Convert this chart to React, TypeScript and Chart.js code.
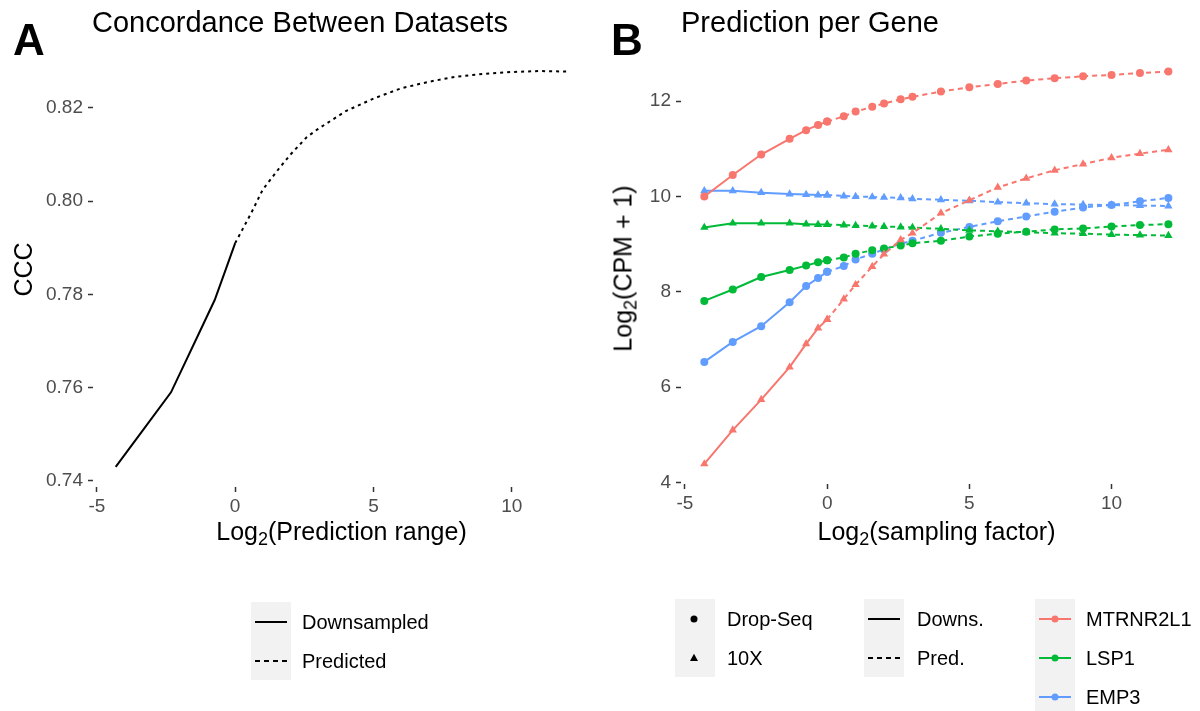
import React, { useEffect, useRef } from "react";
import { Chart, registerables } from "chart.js";

Chart.register(...registerables);

// ---------- Data ----------
// log2(sampling factor) for downsampled points and predicted points
const xDown = [-4.32, -3.32, -2.32, -1.32, -0.74, -0.32, 0];
const xPred = [0, 0.585, 1, 1.585, 2, 2.585, 3, 4, 5, 6, 7, 8, 9, 10, 11, 12];

// Panel A: concordance (CCC)
const cccDown = [0.743, 0.751, 0.759, 0.7715, 0.7788, 0.7857, 0.791];
const cccPred = [0.791, 0.7975, 0.8025, 0.807, 0.81, 0.8137, 0.8155, 0.8193, 0.822, 0.8242, 0.8256, 0.8267, 0.8273, 0.8277, 0.8279, 0.8278];

// Panel B: Log2(CPM + 1) per gene
const mtrnrDropSeqDown = [10.0, 10.45, 10.88, 11.21, 11.39, 11.5, 11.57];
const mtrnrDropSeqPred = [11.57, 11.68, 11.78, 11.88, 11.95, 12.04, 12.09, 12.2, 12.29, 12.36, 12.43, 12.48, 12.52, 12.55, 12.59, 12.62];
const mtrnr10xDown = [4.39, 5.1, 5.74, 6.42, 6.91, 7.24, 7.42];
const mtrnr10xPred = [7.42, 7.85, 8.15, 8.53, 8.79, 9.09, 9.23, 9.65, 9.92, 10.19, 10.38, 10.55, 10.68, 10.81, 10.9, 10.98];
const lspDropSeqDown = [7.81, 8.05, 8.31, 8.46, 8.55, 8.62, 8.66];
const lspDropSeqPred = [8.66, 8.72, 8.8, 8.87, 8.91, 8.97, 9.02, 9.07, 9.16, 9.22, 9.26, 9.31, 9.33, 9.37, 9.4, 9.42];
const lsp10xDown = [9.35, 9.44, 9.44, 9.44, 9.42, 9.41, 9.41];
const lsp10xPred = [9.41, 9.4, 9.39, 9.38, 9.37, 9.36, 9.35, 9.32, 9.29, 9.27, 9.25, 9.23, 9.22, 9.2, 9.19, 9.18];
const empDropSeqDown = [6.53, 6.95, 7.28, 7.78, 8.12, 8.29, 8.42];
const empDropSeqPred = [8.42, 8.54, 8.68, 8.8, 8.89, 9.01, 9.07, 9.24, 9.36, 9.48, 9.58, 9.68, 9.77, 9.82, 9.9, 9.97];
const emp10xDown = [10.12, 10.12, 10.08, 10.05, 10.04, 10.03, 10.03];
const emp10xPred = [10.03, 10.01, 10.0, 9.99, 9.98, 9.97, 9.95, 9.93, 9.91, 9.88, 9.86, 9.84, 9.83, 9.82, 9.81, 9.8];

const genes = ["MTRNR2L1", "LSP1", "EMP3"];
const techs = ["Drop-Seq", "10X"];
const lineTypes = ["Downs.", "Pred."];
const lineTypesA = ["Downsampled", "Predicted"];

// Tick labels
const xTicks = [-5, 0, 5, 10];
const yTicksA = [0.74, 0.76, 0.78, 0.8, 0.82];
const yTicksB = [4, 6, 8, 10, 12];

// ---------- Styles ----------
const FONT = "'Liberation Sans', Arial, Helvetica, sans-serif";
const geneColors = ["#F8766D", "#00BA38", "#619CFF"];
const techShapes = ["circle", "triangle"];
const DASH_A = [3, 4];
const DASH_B = [5, 4];
const KEY_BG = "#F2F2F2";

const toPoints = (xs: number[], ys: number[]) => xs.map((x, i) => ({ x, y: ys[i] }));

function axisX(min: number, max: number, ticks: number[], height: number) {
  return {
    type: "linear",
    min,
    max,
    afterBuildTicks: (s: any) => {
      s.ticks = ticks.map((v) => ({ value: v }));
    },
    afterFit: (s: any) => {
      s.height = height;
    },
    grid: { drawOnChartArea: false, drawTicks: true, tickLength: 5, tickColor: "#333333", tickWidth: 1.5 },
    border: { display: false },
    ticks: {
      color: "#4D4D4D",
      font: { family: FONT, size: 19 },
      padding: 3,
      maxRotation: 0,
      autoSkip: false,
      callback: (v: any) => String(v),
    },
  };
}

function axisY(min: number, max: number, ticks: number[], width: number, fmt: (v: number) => string) {
  return {
    type: "linear",
    min,
    max,
    afterBuildTicks: (s: any) => {
      s.ticks = ticks.map((v) => ({ value: v }));
    },
    afterFit: (s: any) => {
      s.width = width;
    },
    grid: { drawOnChartArea: false, drawTicks: true, tickLength: 5, tickColor: "#333333", tickWidth: 1.5 },
    border: { display: false },
    ticks: {
      color: "#4D4D4D",
      font: { family: FONT, size: 19 },
      padding: 5,
      autoSkip: false,
      callback: (v: any) => fmt(Number(v)),
    },
  };
}

function makeConfigA(): any {
  return {
    type: "line",
    data: {
      datasets: [
        {
          label: lineTypesA[0],
          data: toPoints(xDown, cccDown),
          borderColor: "#000000",
          borderWidth: 2,
          pointRadius: 0,
          tension: 0,
          fill: false,
        },
        {
          label: lineTypesA[1],
          data: toPoints(xPred, cccPred),
          borderColor: "#000000",
          borderWidth: 2,
          borderDash: DASH_A,
          pointRadius: 0,
          tension: 0,
          fill: false,
        },
      ],
    },
    options: {
      animation: false,
      responsive: false,
      events: [],
      layout: { padding: { left: 0, right: 10, top: 51, bottom: 0 } },
      plugins: { legend: { display: false }, tooltip: { enabled: false }, title: { display: false } },
      scales: {
        x: axisX(-5.14, 12.83, xTicks, 711 - 487),
        y: axisY(0.7387, 0.8322, yTicksA, 93, (v) => v.toFixed(2)),
      },
    },
  };
}

function makeConfigB(): any {
  const series = [
    { gene: 0, tech: 0, down: mtrnrDropSeqDown, pred: mtrnrDropSeqPred },
    { gene: 0, tech: 1, down: mtrnr10xDown, pred: mtrnr10xPred },
    { gene: 1, tech: 0, down: lspDropSeqDown, pred: lspDropSeqPred },
    { gene: 1, tech: 1, down: lsp10xDown, pred: lsp10xPred },
    { gene: 2, tech: 0, down: empDropSeqDown, pred: empDropSeqPred },
    { gene: 2, tech: 1, down: emp10xDown, pred: emp10xPred },
  ];
  const datasets: any[] = [];
  series.forEach((s) => {
    const color = geneColors[s.gene];
    const shape = techShapes[s.tech];
    const radius = s.tech === 0 ? 4 : 4.8;
    datasets.push({
      label: `${genes[s.gene]} ${techs[s.tech]} ${lineTypes[0]}`,
      data: toPoints(xDown, s.down),
      borderColor: color,
      backgroundColor: color,
      borderWidth: 2,
      pointStyle: shape,
      pointRadius: radius,
      pointBorderWidth: 0,
      pointBackgroundColor: color,
      tension: 0,
      fill: false,
    });
    datasets.push({
      label: `${genes[s.gene]} ${techs[s.tech]} ${lineTypes[1]}`,
      data: toPoints(xPred, s.pred),
      borderColor: color,
      backgroundColor: color,
      borderWidth: 2,
      borderDash: DASH_B,
      pointStyle: shape,
      pointRadius: radius,
      pointBorderWidth: 0,
      pointBackgroundColor: color,
      tension: 0,
      fill: false,
    });
  });
  return {
    type: "line",
    data: { datasets },
    options: {
      animation: false,
      responsive: false,
      events: [],
      layout: { padding: { left: 0, right: 8, top: 52, bottom: 0 } },
      plugins: { legend: { display: false }, tooltip: { enabled: false }, title: { display: false } },
      scales: {
        x: axisX(-5.14, 12.83, xTicks, 711 - 484),
        y: axisY(3.97, 13.03, yTicksB, 81, (v) => String(v)),
      },
    },
  };
}

function ChartCanvas({ make, left, top, width, height }: any) {
  const ref = useRef<HTMLCanvasElement>(null);
  useEffect(() => {
    const chart = new Chart(ref.current as HTMLCanvasElement, make());
    return () => chart.destroy();
  }, []);
  return (
    <canvas
      ref={ref}
      width={width}
      height={height}
      style={{ position: "absolute", left, top, width, height }}
    />
  );
}

// Text helpers
function Text({ left, top, size, children, bold, width, align, color }: any) {
  return (
    <div
      style={{
        position: "absolute",
        left,
        top,
        width,
        fontFamily: FONT,
        fontSize: size,
        lineHeight: `${size}px`,
        fontWeight: bold ? 700 : 400,
        textAlign: align || "left",
        color: color || "#000000",
        whiteSpace: "nowrap",
      }}
    >
      {children}
    </div>
  );
}

function VText({ cx, cy, size, children }: any) {
  const w = 300;
  return (
    <div
      style={{
        position: "absolute",
        left: cx - w / 2,
        top: cy - size / 2,
        width: w,
        height: size,
        fontFamily: FONT,
        fontSize: size,
        lineHeight: `${size}px`,
        textAlign: "center",
        transform: "rotate(-90deg)",
        transformOrigin: "50% 50%",
        whiteSpace: "nowrap",
        color: "#000000",
      }}
    >
      {children}
    </div>
  );
}

const subStyle: any = { fontSize: "0.72em", verticalAlign: "-0.28em", lineHeight: 0 };

function Legends() {
  const tri = (cx: number, cy: number, r: number) =>
    `${cx},${cy - r} ${cx - r * 0.95},${cy + r * 0.7} ${cx + r * 0.95},${cy + r * 0.7}`;
  return (
    <>
      {/* Panel A legend */}
      <svg style={{ position: "absolute", left: 251, top: 602 }} width={40} height={78}>
        <rect x={0} y={0} width={40} height={78} fill={KEY_BG} />
        <line x1={4} x2={36} y1={20} y2={20} stroke="#000" strokeWidth={2} />
        <line x1={4} x2={36} y1={59} y2={59} stroke="#000" strokeWidth={2} strokeDasharray="5 4" />
      </svg>
      <Text left={302} top={622 - 10} size={20}>{lineTypesA[0]}</Text>
      <Text left={302} top={661 - 10} size={20}>{lineTypesA[1]}</Text>

      {/* Panel B legend: shape */}
      <svg style={{ position: "absolute", left: 675, top: 599 }} width={40} height={78}>
        <rect x={0} y={0} width={40} height={78} fill={KEY_BG} />
        <circle cx={19} cy={20} r={3.5} fill="#000" />
        <polygon points={tri(19, 59, 4.2)} fill="#000" />
      </svg>
      <Text left={727} top={619 - 10} size={20}>{techs[0]}</Text>
      <Text left={727} top={658 - 10} size={20}>{techs[1]}</Text>

      {/* Panel B legend: linetype */}
      <svg style={{ position: "absolute", left: 864, top: 599 }} width={40} height={78}>
        <rect x={0} y={0} width={40} height={78} fill={KEY_BG} />
        <line x1={4} x2={36} y1={20} y2={20} stroke="#000" strokeWidth={2} />
        <line x1={4} x2={36} y1={59} y2={59} stroke="#000" strokeWidth={2} strokeDasharray="5 4" />
      </svg>
      <Text left={917} top={619 - 10} size={20}>{lineTypes[0]}</Text>
      <Text left={917} top={658 - 10} size={20}>{lineTypes[1]}</Text>

      {/* Panel B legend: gene colour */}
      <svg style={{ position: "absolute", left: 1035, top: 599 }} width={40} height={117}>
        <rect x={0} y={0} width={40} height={117} fill={KEY_BG} />
        {genes.map((g, i) => (
          <g key={g}>
            <line x1={4} x2={36} y1={20 + i * 39} y2={20 + i * 39} stroke={geneColors[i]} strokeWidth={2} />
            <circle cx={20} cy={20 + i * 39} r={3.5} fill={geneColors[i]} />
          </g>
        ))}
      </svg>
      {genes.map((g, i) => (
        <Text key={g} left={1086} top={619 + i * 39 - 10} size={20}>{g}</Text>
      ))}
    </>
  );
}

export default function App() {
  return (
    <div
      style={{
        position: "fixed",
        left: 0,
        top: 0,
        width: 1200,
        height: 711,
        background: "#ffffff",
        overflow: "hidden",
      }}
    >
      <ChartCanvas make={makeConfigA} left={0} top={0} width={600} height={711} />
      <ChartCanvas make={makeConfigB} left={600} top={0} width={600} height={711} />

      {/* Panel letters and titles */}
      <Text left={13} top={55 - 37} size={44} bold>A</Text>
      <Text left={92} top={33 - 25} size={29}>Concordance Between Datasets</Text>
      <Text left={611} top={55 - 37} size={44} bold>B</Text>
      <Text left={681} top={33 - 25} size={29}>Prediction per Gene</Text>

      {/* Axis titles */}
      <Text left={93} width={497} top={540 - 21} size={25} align="center">
        Log<sub style={subStyle}>2</sub>(Prediction range)
      </Text>
      <Text left={681} width={511} top={540 - 21} size={25} align="center">
        Log<sub style={subStyle}>2</sub>(sampling factor)
      </Text>
      <VText cx={23} cy={269} size={25}>CCC</VText>
      <VText cx={623} cy={268} size={25}>
        Log<sub style={subStyle}>2</sub>(CPM + 1)
      </VText>

      <Legends />
    </div>
  );
}
